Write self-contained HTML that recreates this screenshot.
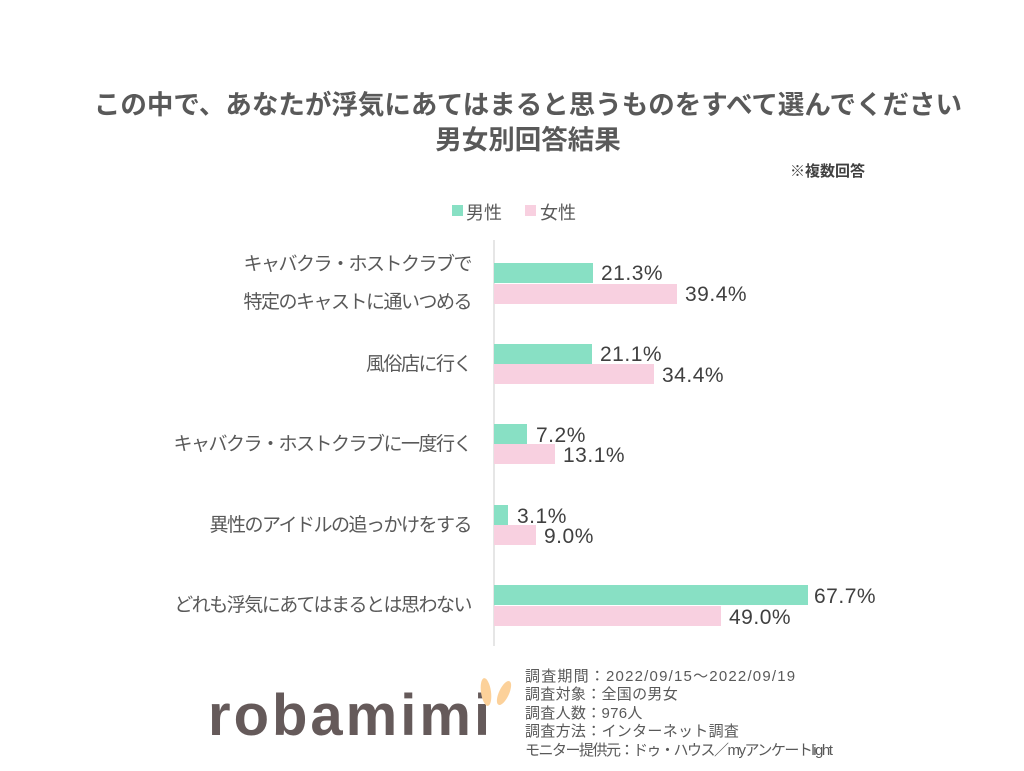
<!DOCTYPE html>
<html><head><meta charset="utf-8"><style>
body{margin:0;width:1024px;height:771px;background:#fff;position:relative;overflow:hidden;font-family:"Liberation Sans","Noto Sans CJK JP",sans-serif;color:#595959}
.a{position:absolute;white-space:nowrap}
.t{font-weight:bold;font-size:26.5px;left:16px;width:1024px;text-align:center;color:#595959}
.lab{font-size:19px;right:553px;text-align:right;line-height:20px;letter-spacing:-1.5px}
.bar{position:absolute;left:494px;height:20px}
.g{background:#88e0c4}.p{background:#f8d0e0}
.v{font-size:21px;color:#404040;line-height:20px;letter-spacing:0.5px}
.f{font-size:15px;left:525px;color:#595959;line-height:16px;letter-spacing:0.3px}
</style></head><body>
<div class="a t" style="top:83px">この中で、あなたが浮気にあてはまると思うものをすべて選んでください</div>
<div class="a t" style="top:118px">男女別回答結果</div>
<div class="a" style="left:790px;top:160px;font-size:15px;font-weight:bold;color:#404040">※複数回答</div>
<div class="a" style="left:452px;top:205px;width:11px;height:11px;background:#88e0c4"></div>
<div class="a" style="left:466px;top:199px;font-size:18px">男性</div>
<div class="a" style="left:525px;top:205px;width:11px;height:11px;background:#f8d0e0"></div>
<div class="a" style="left:540px;top:199px;font-size:18px">女性</div>
<div class="a" style="left:493px;top:240px;width:2px;height:406px;background:#e6e6e6"></div>

<div class="a lab" style="top:255px">キャバクラ・ホストクラブで</div>
<div class="a lab" style="top:293px">特定のキャストに通いつめる</div>
<div class="a lab" style="top:355px">風俗店に行く</div>
<div class="a lab" style="top:435px">キャバクラ・ホストクラブに一度行く</div>
<div class="a lab" style="top:516px">異性のアイドルの追っかけをする</div>
<div class="a lab" style="top:596px">どれも浮気にあてはまるとは思わない</div>

<div class="bar g" style="top:263px;width:99px"></div><div class="a v" style="left:601px;top:264px">21.3%</div>
<div class="bar p" style="top:284px;width:183px"></div><div class="a v" style="left:685px;top:285px">39.4%</div>
<div class="bar g" style="top:344px;width:98px"></div><div class="a v" style="left:600px;top:345px">21.1%</div>
<div class="bar p" style="top:364px;width:160px"></div><div class="a v" style="left:662px;top:366px">34.4%</div>
<div class="bar g" style="top:424px;width:33px"></div><div class="a v" style="left:536px;top:426px">7.2%</div>
<div class="bar p" style="top:444px;width:61px"></div><div class="a v" style="left:563px;top:446px">13.1%</div>
<div class="bar g" style="top:505px;width:14px"></div><div class="a v" style="left:517px;top:507px">3.1%</div>
<div class="bar p" style="top:525px;width:42px"></div><div class="a v" style="left:544px;top:527px">9.0%</div>
<div class="bar g" style="top:585px;width:314px"></div><div class="a v" style="left:814px;top:587px">67.7%</div>
<div class="bar p" style="top:606px;width:227px"></div><div class="a v" style="left:729px;top:608px">49.0%</div>

<div class="a" style="left:208px;top:682px;font-size:58px;font-weight:bold;color:#655a5a;letter-spacing:3px">robamimi</div>
<div class="a" style="left:481px;top:678px;width:10px;height:28px;border-radius:50%;background:#fcd19a;transform:rotate(-8deg)"></div>
<div class="a" style="left:499px;top:680px;width:10px;height:26px;border-radius:50%;background:#fcd19a;transform:rotate(25deg)"></div>

<div class="a f" style="top:669px;letter-spacing:1.2px">調査期間：2022/09/15～2022/09/19</div>
<div class="a f" style="top:687px">調査対象：全国の男女</div>
<div class="a f" style="top:706px">調査人数：976人</div>
<div class="a f" style="top:724px">調査方法：インターネット調査</div>
<div class="a f" style="top:743px;letter-spacing:-1.5px">モニター提供元：ドゥ・ハウス／myアンケートlight</div>
</body></html>
